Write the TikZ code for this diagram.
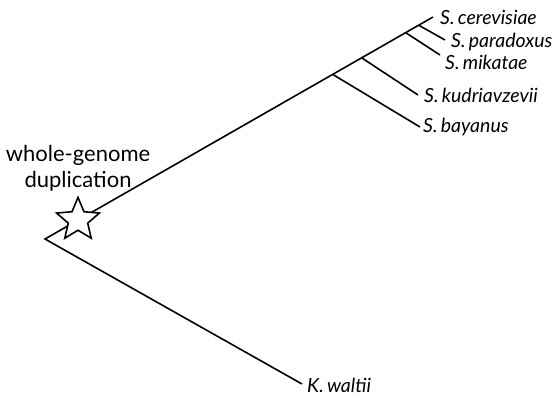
\documentclass[tikz,border=0pt]{standalone}
\usepackage{fontspec}
\setmainfont{Lato}
\usetikzlibrary{shapes.geometric}
\begin{document}
\begin{tikzpicture}[x=1pt,y=-1pt,
  branch/.style={line width=1.6pt,black},
  sp/.style={anchor=west,font=\itshape\fontsize{19.5}{22}\selectfont,inner sep=0pt},
  wgd/.style={star,star points=5,star point ratio=2.2,minimum size=45pt,inner sep=0pt,draw,line width=1.6pt,fill=white}]
\useasboundingbox (0,0) rectangle (556,401);
\coordinate (root) at (45,239);
\coordinate (cer) at (433,17);
\path (root) -- (cer) coordinate[pos=0.7415] (nbay) coordinate[pos=0.8162] (nkud) coordinate[pos=0.9296] (nmik) coordinate[pos=0.9631] (npar);
\coordinate (ebay) at (420,127);
\coordinate (ekud) at (418,95);
\coordinate (emik) at (440,55);
\coordinate (epar) at (445,40);
\coordinate (ewal) at (302,384);
\draw[branch] (ewal) -- (root) -- (cer);
\draw[branch] (nbay) -- (ebay);
\draw[branch] (nkud) -- (ekud);
\draw[branch] (nmik) -- (emik);
\draw[branch] (npar) -- (epar);
\node[wgd] (star) at (78,220) {};
\node[sp] (lcer) at (440,17) {S.\,cerevisiae};
\node[sp] (lpar) at (451,42) {S.\,paradoxus};
\node[sp] (lmik) at (445,62) {S.\,mikatae};
\node[sp] (lkud) at (424,95) {S.\,kudriavzevii};
\node[sp] (lbay) at (423,127) {S.\,bayanus};
\node[sp] (lwal) at (307,385) {K.\,waltii};
\node[align=center,font=\fontsize{22}{26}\selectfont,inner sep=0pt] (lwgd) at (78,168) {whole-genome\\duplication};
\end{tikzpicture}
\end{document}
